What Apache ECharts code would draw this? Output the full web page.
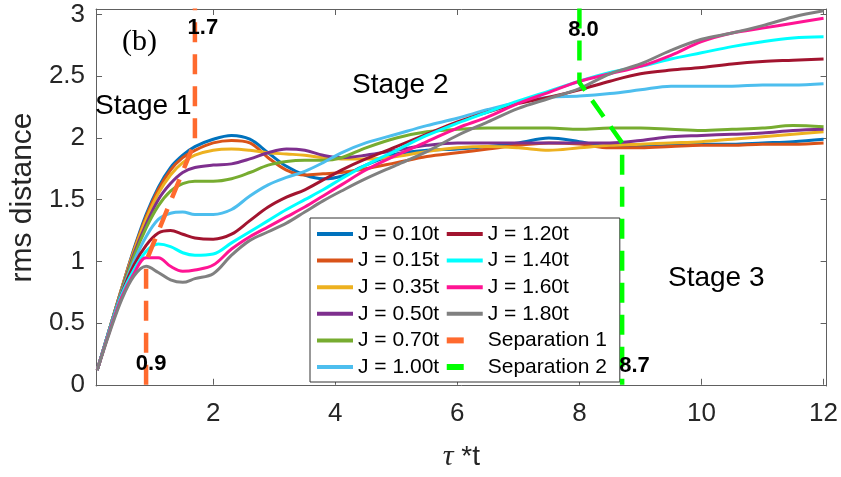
<!DOCTYPE html>
<html>
<head>
<meta charset="utf-8">
<script src="https://cdn.jsdelivr.net/npm/echarts@6/dist/echarts.min.js"></script>
<style>html,body{margin:0;padding:0;background:#fff}#c{width:841px;height:477px}</style>
</head>
<body>
<div id="c"></div>
<script>
// ---- data ----
const X = [0.1,0.3,0.5,0.7,0.9,1.1,1.3,1.5,1.7,2.0,2.3,2.6,2.9,3.2,3.5,3.8,4.1,4.5,5.0,5.5,6.0,6.5,7.0,7.5,8.0,8.5,9.0,9.5,10,10.5,11,11.5,12];
const J010 = [0.12,0.45,0.78,1.10,1.38,1.60,1.76,1.86,1.93,1.99,2.02,1.99,1.88,1.77,1.70,1.67,1.69,1.78,1.87,1.90,1.91,1.93,1.96,2.00,1.97,1.93,1.93,1.94,1.95,1.95,1.96,1.97,1.99];
const J015 = [0.12,0.45,0.78,1.09,1.36,1.58,1.74,1.84,1.90,1.96,1.98,1.96,1.84,1.74,1.70,1.71,1.72,1.75,1.80,1.85,1.88,1.91,1.94,1.96,1.95,1.92,1.92,1.93,1.94,1.94,1.95,1.95,1.96];
const J035 = [0.12,0.45,0.78,1.08,1.34,1.55,1.70,1.80,1.86,1.90,1.91,1.90,1.88,1.87,1.86,1.84,1.83,1.83,1.85,1.89,1.92,1.93,1.92,1.90,1.92,1.94,1.95,1.96,1.97,1.99,2.01,2.03,2.05];
const J050 = [0.12,0.45,0.77,1.06,1.30,1.50,1.63,1.72,1.76,1.78,1.79,1.83,1.88,1.91,1.90,1.86,1.84,1.86,1.90,1.94,1.96,1.96,1.96,1.96,1.96,1.96,1.98,2.01,2.02,2.03,2.04,2.06,2.07];
const J070 = [0.12,0.45,0.76,1.04,1.27,1.45,1.57,1.63,1.65,1.65,1.67,1.72,1.78,1.81,1.82,1.82,1.84,1.92,2.00,2.05,2.07,2.08,2.08,2.08,2.07,2.08,2.08,2.07,2.06,2.07,2.08,2.10,2.09];
const J100 = [0.12,0.45,0.75,1.00,1.20,1.34,1.39,1.40,1.38,1.38,1.42,1.53,1.62,1.68,1.73,1.80,1.88,1.96,2.03,2.10,2.16,2.23,2.29,2.33,2.34,2.36,2.39,2.42,2.42,2.42,2.43,2.43,2.44];
const J120 = [0.12,0.44,0.74,0.97,1.13,1.23,1.25,1.22,1.19,1.18,1.22,1.33,1.44,1.52,1.58,1.66,1.74,1.83,1.93,2.03,2.13,2.21,2.28,2.33,2.39,2.46,2.52,2.55,2.57,2.60,2.62,2.63,2.64];
const J140 = [0.12,0.44,0.73,0.93,1.08,1.14,1.12,1.07,1.05,1.06,1.15,1.24,1.33,1.42,1.50,1.58,1.67,1.78,1.90,2.02,2.12,2.21,2.30,2.38,2.46,2.53,2.58,2.64,2.69,2.74,2.78,2.81,2.82];
const J160 = [0.12,0.43,0.71,0.90,1.03,1.03,0.96,0.92,0.93,0.97,1.10,1.20,1.28,1.36,1.44,1.53,1.62,1.74,1.86,1.97,2.08,2.17,2.28,2.37,2.46,2.52,2.58,2.67,2.78,2.85,2.89,2.93,2.97];
const J180 = [0.12,0.42,0.69,0.88,0.96,0.91,0.85,0.83,0.86,0.90,1.05,1.17,1.24,1.31,1.40,1.49,1.57,1.67,1.78,1.89,2.02,2.13,2.24,2.32,2.40,2.52,2.60,2.71,2.80,2.85,2.91,2.98,3.03];
const SEP1_X = [0.9,0.9,1.7,1.7];
const SEP1_Y = [0,1.0,1.97,3.05];
const SEP2_X = [8.0,8.0,8.7,8.7];
const SEP2_Y = [3.05,2.45,1.96,0];
const NAMES = ['J = 0.10t','J = 0.15t','J = 0.35t','J = 0.50t','J = 0.70t','J = 1.00t','J = 1.20t','J = 1.40t','J = 1.60t','J = 1.80t'];
const SERIES_Y = [J010,J015,J035,J050,J070,J100,J120,J140,J160,J180];
const COLORS = ['#0072BD','#D95319','#EDB120','#7E2F8E','#77AC30','#4DBEEE','#A2142F','#00FFFF','#FF1493','#808080'];
const X_TICKS = [2,4,6,8,10,12];
const Y_TICKS = [0,0.5,1,1.5,2,2.5,3];

const FONT = 'Liberation Sans, Arial, Helvetica, sans-serif';
const SERIF = 'Liberation Serif, Times New Roman, serif';
const chart = echarts.init(document.getElementById('c'));

const series = SERIES_Y.map((ys, k) => ({
  name: NAMES[k], type: 'line', smooth: 0.35, showSymbol: false, symbol: 'none',
  data: X.map((x, i) => [x, ys[i]]),
  lineStyle: { width: 3, color: COLORS[k] }, itemStyle: { color: COLORS[k] },
  z: 3, animation: false
}));
series.push({
  name: 'Separation 1', type: 'line', showSymbol: false, symbol: 'none',
  data: SEP1_X.map((x, i) => [x, SEP1_Y[i]]),
  lineStyle: { width: 4.5, color: '#FF6A2E', type: [20, 12], cap: 'butt' }, itemStyle: { color: '#FF6A2E' },
  z: 4, animation: false
});
series.push({
  name: 'Separation 2', type: 'line', showSymbol: false, symbol: 'none',
  data: SEP2_X.map((x, i) => [x, SEP2_Y[i]]),
  lineStyle: { width: 4.5, color: '#00FF00', type: [20, 12], cap: 'butt' }, itemStyle: { color: '#00FF00' },
  z: 4, animation: false
});

const axisCol = '#606060';
const legendData = NAMES.map(n => ({ name: n }));
legendData.push({ name: 'Separation 1', lineStyle: { type: [17, 60], width: 6 } });
legendData.push({ name: 'Separation 2', lineStyle: { type: [17, 60], width: 6 } });

chart.setOption({
  animation: false,
  backgroundColor: '#fff',
  grid: { left: 94.5, right: 13.5, top: 9, bottom: 84.3, containLabel: false },
  xAxis: [{
    type: 'value', min: 0.08, max: 12.05,
    name: '{tau|τ} *t', nameLocation: 'middle', nameGap: 56,
    nameTextStyle: { fontFamily: FONT, fontSize: 28, color: '#262626',
      rich: { tau: { fontFamily: SERIF, fontStyle: 'italic', fontSize: 30, color: '#262626' } } },
    axisLine: { show: true, lineStyle: { color: axisCol, width: 1 } },
    axisTick: { show: true, inside: true, length: 6, customValues: X_TICKS, lineStyle: { color: axisCol } },
    axisLabel: { customValues: X_TICKS, fontFamily: FONT, fontSize: 26, color: '#262626', margin: 15 },
    splitLine: { show: false }
  }, {
    type: 'value', min: 0.08, max: 12.05, position: 'top',
    axisLine: { show: true, onZero: false, lineStyle: { color: axisCol, width: 1 } },
    axisTick: { show: true, inside: true, length: 6, customValues: X_TICKS, lineStyle: { color: axisCol } },
    axisLabel: { show: false }, splitLine: { show: false }
  }],
  yAxis: [{
    type: 'value', min: -0.01, max: 3.045,
    name: 'rms distance', nameLocation: 'middle', nameGap: 56,
    nameTextStyle: { fontFamily: FONT, fontSize: 30, color: '#262626' },
    axisLine: { show: true, onZero: false, lineStyle: { color: axisCol, width: 1 } },
    axisTick: { show: true, inside: true, length: 6, customValues: Y_TICKS, lineStyle: { color: axisCol } },
    axisLabel: { customValues: Y_TICKS, fontFamily: FONT, fontSize: 26, color: '#262626', margin: 11 },
    splitLine: { show: false }
  }, {
    type: 'value', min: -0.01, max: 3.045, position: 'right',
    axisLine: { show: true, onZero: false, lineStyle: { color: axisCol, width: 1 } },
    axisTick: { show: true, inside: true, length: 6, customValues: Y_TICKS, lineStyle: { color: axisCol } },
    axisLabel: { show: false }, splitLine: { show: false }
  }],
  legend: {
    orient: 'vertical', left: 310, top: 218, height: 168,
    padding: [5.5, 13, 4.5, 5], itemGap: 5.6, itemWidth: 36, itemHeight: 14,
    backgroundColor: '#fff', borderColor: '#333', borderWidth: 1, borderRadius: 0,
    itemStyle: { opacity: 0 },
    lineStyle: { width: 4 },
    textStyle: { fontFamily: FONT, fontSize: 21, color: '#000', width: 88 },
    data: legendData, selectedMode: false
  },
  series: series
});

function P(x, y) { return chart.convertToPixel({ gridIndex: 0 }, [x, y]); }
const p17 = P(1.7, 3), p09 = P(0.9, 0.2), p80 = P(8.0, 3), p87 = P(8.7, 0.2);
const boldTxt = { fontFamily: FONT, fontSize: 22, fontWeight: 'bold', fill: '#000', textVerticalAlign: 'middle' };
const stageTxt = { fontFamily: FONT, fontSize: 28, fill: '#000', textVerticalAlign: 'middle' };
chart.setOption({
  graphic: [
    { type: 'text', left: 122, top: 27, style: { text: '(b)', fontFamily: SERIF, fontSize: 30, fill: '#000' }, z: 10 },
    { type: 'text', x: 95, y: 106, style: Object.assign({ text: 'Stage 1' }, stageTxt), z: 10 },
    { type: 'text', x: 352, y: 85, style: Object.assign({ text: 'Stage 2' }, stageTxt), z: 10 },
    { type: 'text', x: 668, y: 278, style: Object.assign({ text: 'Stage 3' }, stageTxt), z: 10 },
    { type: 'text', x: p17[0] + 8, y: 28, style: Object.assign({ text: '1.7', textAlign: 'center' }, boldTxt), z: 10 },
    { type: 'text', x: p09[0] + 5, y: 364, style: Object.assign({ text: '0.9', textAlign: 'center' }, boldTxt), z: 10 },
    { type: 'text', x: p80[0] + 4, y: 30, style: Object.assign({ text: '8.0', textAlign: 'center' }, boldTxt), z: 10 },
    { type: 'text', x: p87[0] - 3, y: 366, style: Object.assign({ text: '8.7', textAlign: 'left' }, boldTxt), z: 10 }
  ]
});
</script>
</body>
</html>
